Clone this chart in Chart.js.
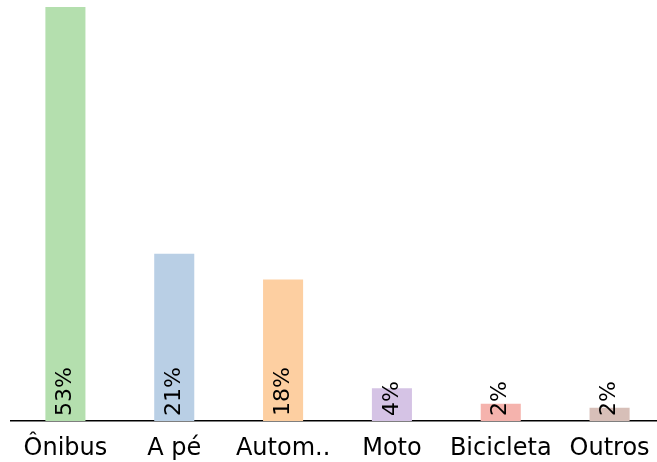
<!DOCTYPE html>
<html>
<head>
<meta charset="utf-8">
<script src="https://cdn.jsdelivr.net/npm/chart.js@4"></script>
<style>
  html, body { margin: 0; padding: 0; background: #fff; overflow: hidden; }
  #wrap { width: 664px; height: 462px; }
</style>
</head>
<body>
<div id="wrap"><canvas id="modeChart"></canvas></div>
<script>
const categories = ["Ônibus", "A pé", "Autom..", "Moto", "Bicicleta", "Outros"];
const shares = [53, 21.4, 18.1, 4.2, 2.2, 1.7];
const shareLabels = ["53%", "21%", "18%", "4%", "2%", "2%"];
const barColors = ["#b4dfae", "#b9cfe5", "#fdcfa1", "#d5c3e5", "#f5b3ad", "#d7bfb8"];

const FONT = "'DejaVu Sans', sans-serif";

// rotated percentage at the base of each bar + category names under the axis
const barText = {
  id: "barText",
  afterDraw(chart) {
    const ctx = chart.ctx;
    const meta = chart.getDatasetMeta(0);
    const xScale = chart.scales.x;
    ctx.save();
    ctx.fillStyle = "#000";

    ctx.font = "22px " + FONT;
    ctx.textAlign = "left";
    ctx.textBaseline = "middle";
    meta.data.forEach((bar, i) => {
      ctx.save();
      ctx.translate(bar.x, bar.base - 5);
      ctx.rotate(-Math.PI / 2);
      ctx.fillText(shareLabels[i], 0, 0);
      ctx.restore();
    });

    ctx.font = "24px " + FONT;
    ctx.textAlign = "center";
    ctx.textBaseline = "alphabetic";
    categories.forEach((name, i) => {
      ctx.fillText(name, xScale.getPixelForValue(i), chart.chartArea.bottom + 34);
    });
    ctx.restore();
  }
};

new Chart(document.getElementById("modeChart"), {
  type: "bar",
  data: {
    labels: categories,
    datasets: [{
      data: shares,
      backgroundColor: barColors,
      borderWidth: 0,
      barPercentage: 0.368,
      categoryPercentage: 1
    }]
  },
  options: {
    responsive: true,
    maintainAspectRatio: false,
    animation: false,
    layout: { padding: { left: 11, right: 0, top: 7, bottom: 41 } },
    plugins: {
      legend: { display: false },
      tooltip: { enabled: false }
    },
    scales: {
      x: {
        grid: { display: false, drawTicks: false },
        border: { display: true, color: "#000", width: 1.5 },
        ticks: { display: false }
      },
      y: {
        display: false,
        min: 0,
        max: 53
      }
    }
  },
  plugins: [barText]
});
</script>
</body>
</html>
